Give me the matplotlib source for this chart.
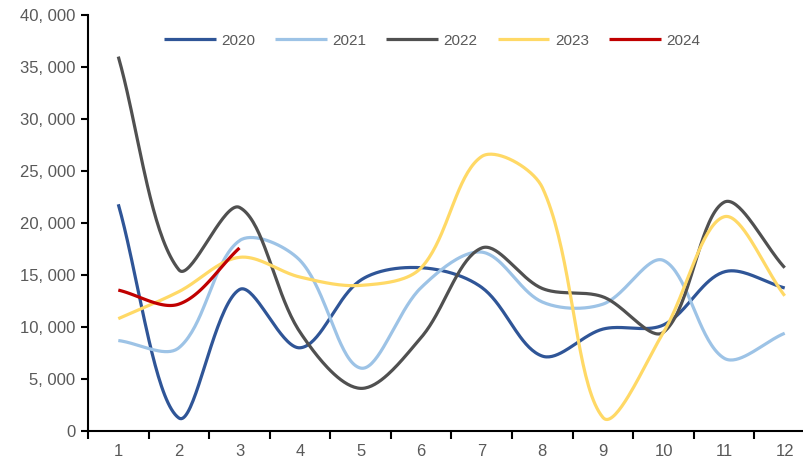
import numpy as np
import matplotlib
matplotlib.use("Agg")
import matplotlib.pyplot as plt

months = [1, 2, 3, 4, 5, 6, 7, 8, 9, 10, 11, 12]
v2020 = [21800, 1250, 13600, 8000, 14500, 15700, 13800, 7200, 9800, 10200, 15300, 13750]
v2021 = [8700, 8000, 18300, 16400, 6050, 13800, 17200, 12400, 12200, 16400, 7000, 9400]
v2022 = [36000, 15500, 21500, 9500, 4100, 9000, 17600, 13700, 12900, 9500, 22000, 15700]
v2023 = [10800, 13400, 16700, 14800, 14000, 15700, 26400, 23400, 1300, 9500, 20600, 13000]
v2024 = [13550, 12200, 17600]

series = [("2020", v2020, "#2F5597"), ("2021", v2021, "#9DC3E6"),
          ("2022", v2022, "#505050"), ("2023", v2023, "#FFD966"),
          ("2024", v2024, "#C00000")]
yticks = [0, 5000, 10000, 15000, 20000, 25000, 30000, 35000, 40000]

# pixel size of one category / one unit, used so the smoothing works in screen space
XPX = 60.6
YPX = 10.4 / 1000


def smooth(x, y, n=40):
    # excel style smoothed line: bezier, control arms weighted by segment length
    p = np.column_stack([np.asarray(x, float) * XPX, np.asarray(y, float) * YPX])
    m = len(p)
    seg = np.hypot(*np.diff(p, axis=0).T)
    after, before = [], []
    for i in range(m):
        a = p[max(i - 1, 0)]
        b = p[min(i + 1, m - 1)]
        d = b - a
        ll = seg[i - 1] if i > 0 else 0.0
        lr = seg[i] if i < m - 1 else 0.0
        tot = ll + lr
        after.append(p[i] + d / 3 * (lr / tot))
        before.append(p[i] - d / 3 * (ll / tot))
    t = np.linspace(0, 1, n)[:, None]
    out = []
    for i in range(m - 1):
        p0, c1, c2, p3 = p[i], after[i], before[i + 1], p[i + 1]
        out.append((1 - t) ** 3 * p0 + 3 * (1 - t) ** 2 * t * c1 + 3 * (1 - t) * t ** 2 * c2 + t ** 3 * p3)
    out = np.vstack(out)
    return out[:, 0] / XPX, out[:, 1] / YPX


plt.rcParams['font.family'] = ['Liberation Sans', 'DejaVu Sans']
fig = plt.figure(figsize=(8.04, 4.62), dpi=100)
ax = fig.add_axes([88 / 804, 31 / 462, 727 / 804, 416 / 462])

for name, vals, clr in series:
    sx, sy = smooth(months[:len(vals)], vals)
    ax.plot(sx, sy, color=clr, lw=2.3, label=name, solid_capstyle='butt')

ax.set_xlim(0.5, 12.5)
ax.set_ylim(0, 40000)
ax.set_yticks(yticks)
ax.set_yticklabels(["{:,}".format(v).replace(",", ", ") for v in yticks])
ax.set_xticks(months)
ax.set_xticklabels([str(m) for m in months])
ax.set_xticks(np.arange(0.5, 12.5, 1), minor=True)
ax.tick_params(axis='x', which='major', length=0, pad=9, labelsize=12, labelcolor='#595959')
ax.tick_params(axis='x', which='minor', length=6, width=1.5, direction='out', color='black')
ax.tick_params(axis='y', length=5, width=1.5, direction='out', pad=4, labelsize=12, labelcolor='#595959')
for s in ['top', 'right']:
    ax.spines[s].set_visible(False)
for s in ['left', 'bottom']:
    ax.spines[s].set_linewidth(1.5)
    ax.spines[s].set_color('black')

leg = ax.legend(loc='upper center', ncol=5, frameon=False, fontsize=11, handlelength=3.4,
                handletextpad=0.35, columnspacing=1.3, labelcolor='#595959')
leg.set_bbox_to_anchor((432 / 804, 0.957), transform=fig.transFigure)

fig.savefig("out.png", dpi=100, facecolor='white')
